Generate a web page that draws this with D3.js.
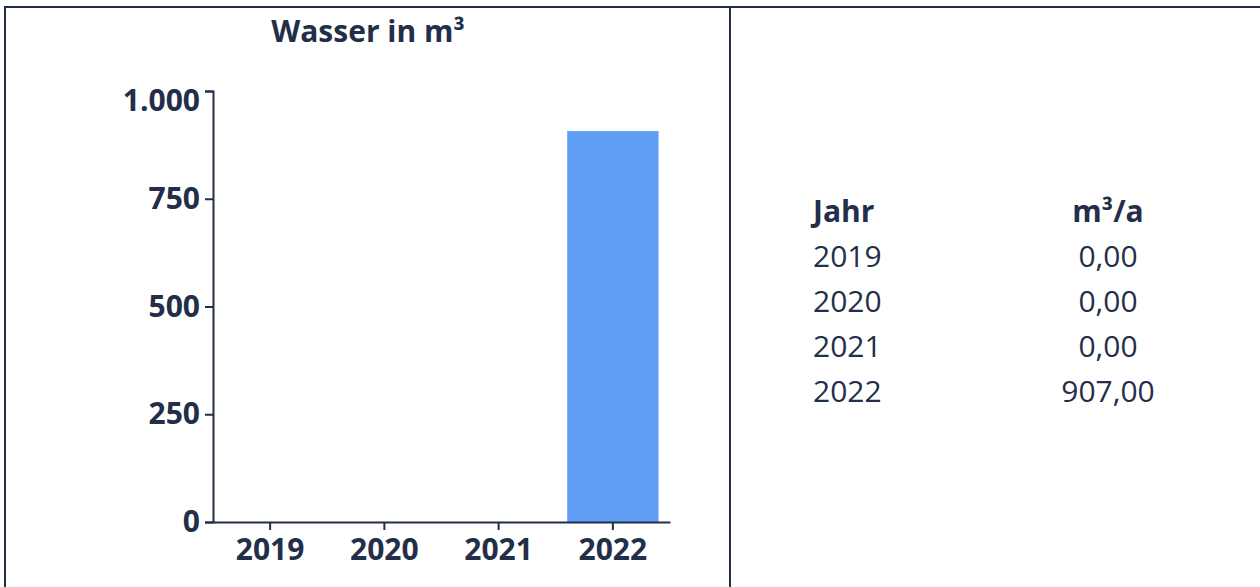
<!DOCTYPE html>
<html>
<head>
<meta charset="utf-8">
<script src="https://cdn.jsdelivr.net/npm/d3@7"></script>
<style>
  html, body { margin: 0; padding: 0; background: #fff; }
  svg { display: block; font-family: "Open Sans", sans-serif; }
</style>
</head>
<body>
<svg id="chart" width="1260" height="587"></svg>
<script>
const title = "Wasser in m³";
const years = ["2019", "2020", "2021", "2022"];
const values = [0, 0, 0, 907];
const yTicks = [0, 250, 500, 750, 1000];
const tableHeaders = ["Jahr", "m³/a"];

const ink = "#232e49";
const barColor = "#619ff5";

const de = d3.formatLocale({ decimal: ",", thousands: ".", grouping: [3], currency: ["", " €"] });
const fmtTick = de.format(",");
const fmtVal = de.format(",.2f");

const svg = d3.select("#chart");

// frame
svg.append("line").attr("x1", 5).attr("x2", 1260).attr("y1", 7).attr("y2", 7)
  .attr("stroke", ink).attr("stroke-width", 2);
svg.append("line").attr("x1", 5).attr("x2", 5).attr("y1", 6).attr("y2", 587)
  .attr("stroke", ink).attr("stroke-width", 2);
svg.append("line").attr("x1", 730).attr("x2", 730).attr("y1", 6).attr("y2", 587)
  .attr("stroke", ink).attr("stroke-width", 2);

// title
svg.append("text").attr("x", 368).attr("y", 42).attr("text-anchor", "middle")
  .attr("font-size", 30).attr("font-weight", 700).attr("fill", ink).text(title);

const x = d3.scaleBand().domain(years).range([213, 670]).paddingInner(0.2).paddingOuter(0.1);
const y = d3.scaleLinear().domain([0, 1000]).range([522, 91]);

svg.append("g").selectAll("rect").data(years).join("rect")
  .attr("x", d => x(d))
  .attr("width", x.bandwidth())
  .attr("y", (d, i) => y(values[i]))
  .attr("height", (d, i) => y(0) - y(values[i]))
  .attr("fill", barColor);

const gy = svg.append("g").attr("transform", "translate(213,0)")
  .call(d3.axisLeft(y).tickValues(yTicks).tickFormat(fmtTick).tickSize(8).tickPadding(5));
const gx = svg.append("g").attr("transform", "translate(0,522)")
  .call(d3.axisBottom(x).tickSize(8).tickSizeOuter(0).tickPadding(9));

[gx, gy].forEach(g => {
  g.selectAll("path, line").attr("stroke", ink).attr("stroke-width", 2);
  g.selectAll("text").attr("font-size", 30).attr("font-weight", 700)
    .attr("fill", ink).attr("font-family", "'Open Sans', sans-serif");
});
// top label sits just below its tick so it stays inside the frame
gy.selectAll(".tick").filter(d => d === 1000).select("text").attr("y", 10);

// table
const col1 = 813, col2 = 1108, headY = 222, rowH = 45;
const tbl = svg.append("g");
tbl.append("text").attr("x", col1).attr("y", headY).attr("font-size", 30).attr("font-weight", 700)
  .attr("fill", ink).text(tableHeaders[0]);
tbl.append("text").attr("x", col2).attr("y", headY).attr("text-anchor", "middle").attr("font-size", 30)
  .attr("font-weight", 700).attr("fill", ink).text(tableHeaders[1]);
years.forEach((yr, i) => {
  tbl.append("text").attr("x", col1).attr("y", headY + rowH * (i + 1)).attr("font-size", 30)
    .attr("fill", ink).text(yr);
  tbl.append("text").attr("x", col2).attr("y", headY + rowH * (i + 1)).attr("text-anchor", "middle")
    .attr("font-size", 30).attr("fill", ink).text(fmtVal(values[i]));
});
</script>
</body>
</html>
